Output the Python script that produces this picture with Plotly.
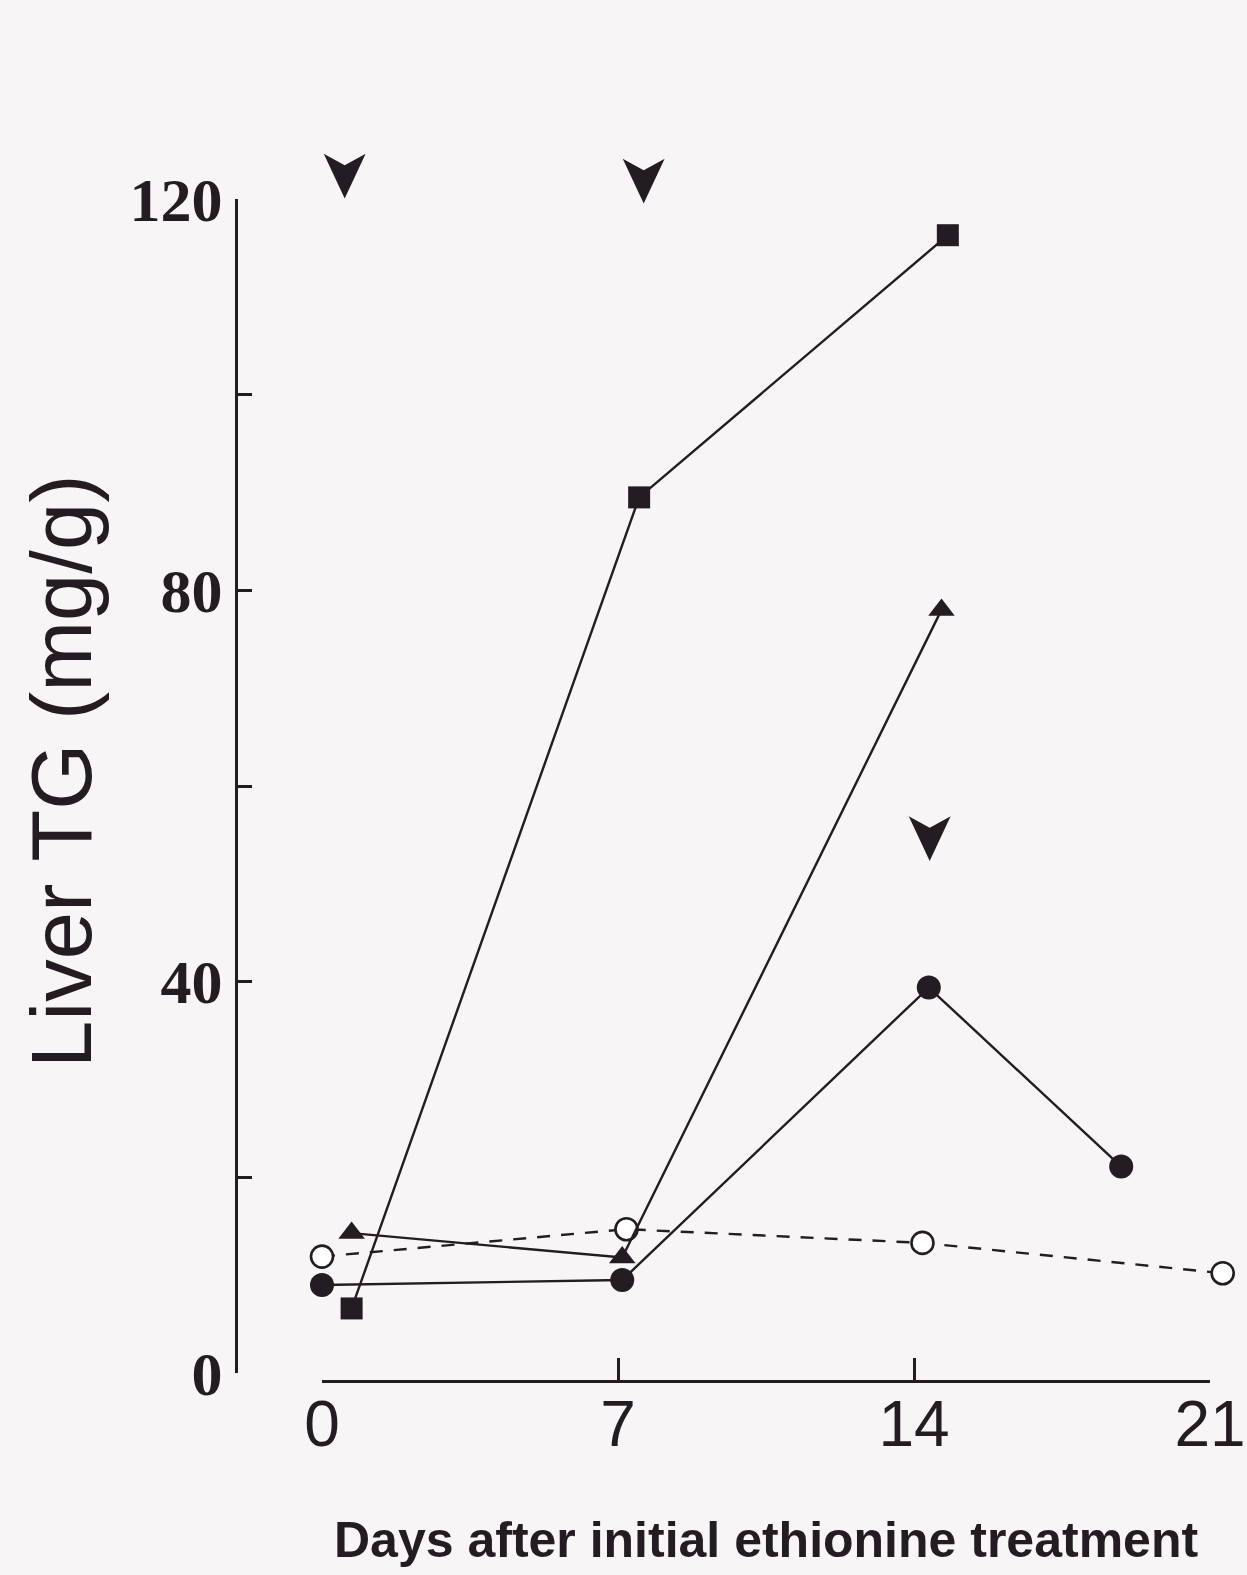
import plotly.graph_objects as go

# ---- data ----
sq_days = [0.7, 7.5, 14.8]
sq_tg = [6.6, 89.5, 116.3]

tri_days = [0.7, 7.1, 14.65]
tri_tg = [14.3, 11.8, 78.0]

cir_days = [0.0, 7.1, 14.35, 18.9]
cir_tg = [9.0, 9.5, 39.4, 21.1]

open_days = [0.0, 7.2, 14.2, 21.3]
open_tg = [11.9, 14.7, 13.3, 10.2]

arrow_days = [0.57, 7.64, 14.4]
arrow_tg = [122.6, 122.1, 54.8]

x_ticks = [0, 7, 14, 21]
y_ticks = [0, 20, 40, 60, 80, 100, 120]
y_ticklabels = ["0", "", "40", "", "80", "", "120"]

INK = "#231c22"
BG = "#f8f5f6"
W, H = 1247, 1575

# pixel geometry of the axes
x0_px, x21_px = 322, 1210
y0_px, y120_px = 1373, 199
yaxis_px = 236
xaxis_px = 1381

ppd = (x21_px - x0_px) / 21.0      # px per day
ppu = (y0_px - y120_px) / 120.0    # px per mg/g
data_xrange = [-x0_px / ppd, 21 + (W - x21_px) / ppd]
data_yrange = [-(H - y0_px) / ppu, 120 + y120_px / ppu]

fig = go.Figure()

common = dict(xaxis="x", yaxis="y", showlegend=False, hoverinfo="skip")

fig.add_trace(go.Scatter(
    x=open_days, y=open_tg, mode="lines+markers",
    line=dict(color=INK, width=2.4, dash="13px,11px"),
    marker=dict(symbol="circle", size=22, color="white", line=dict(color=INK, width=2.6)),
    **common))

fig.add_trace(go.Scatter(
    x=cir_days, y=cir_tg, mode="lines+markers",
    line=dict(color=INK, width=2.4),
    marker=dict(symbol="circle", size=24, color=INK),
    **common))

fig.add_trace(go.Scatter(
    x=tri_days, y=tri_tg, mode="lines+markers",
    line=dict(color=INK, width=2.4),
    marker=dict(symbol="triangle-up", size=23, color=INK),
    **common))

fig.add_trace(go.Scatter(
    x=sq_days, y=sq_tg, mode="lines+markers",
    line=dict(color=INK, width=2.4),
    marker=dict(symbol="square", size=22, color=INK),
    **common))

# treatment arrows
for d, v in zip(arrow_days, arrow_tg):
    fig.add_annotation(x=d, y=v, xref="x", yref="y", text="➤", textangle=90,
                       showarrow=False, xanchor="center", yanchor="middle",
                       font=dict(family="DejaVu Sans", size=66, color=INK))

# dummy trace so the visible axes subplot exists
fig.add_trace(go.Scatter(x=[0], y=[0], xaxis="x2", yaxis="y2", mode="markers",
                         marker=dict(size=1, opacity=0), showlegend=False, hoverinfo="skip"))

fig.update_layout(
    width=W, height=H,
    margin=dict(l=0, r=0, t=0, b=0, autoexpand=False),
    paper_bgcolor=BG, plot_bgcolor="rgba(0,0,0,0)",
    xaxis=dict(domain=[0, 1], range=data_xrange, visible=False, automargin=False),
    yaxis=dict(domain=[0, 1], range=data_yrange, visible=False, automargin=False),
    xaxis2=dict(
        domain=[x0_px / W, x21_px / W], range=[0, 21],
        anchor="free", position=1 - xaxis_px / H, automargin=False,
        showline=True, linecolor=INK, linewidth=3,
        ticks="inside", ticklen=22, tickwidth=2.5, tickcolor=INK,
        tickvals=x_ticks, ticktext=[str(v) for v in x_ticks],
        ticklabelstandoff=-14,
        tickfont=dict(family="Liberation Sans Narrow, Arial Narrow, Liberation Sans", size=64, color=INK),
        showgrid=False, zeroline=False),
    yaxis2=dict(
        domain=[1 - y0_px / H, 1 - y120_px / H], range=[0, 120],
        anchor="free", position=yaxis_px / W, automargin=False,
        showline=True, linecolor=INK, linewidth=3,
        ticks="inside", ticklen=14, tickwidth=2.5, tickcolor=INK,
        tickvals=y_ticks, ticktext=y_ticklabels,
        tickfont=dict(family="Liberation Serif, Times New Roman, serif", size=62, color=INK, weight="bold"),
        showgrid=False, zeroline=False),
)

fig.add_annotation(text="Liver TG (mg/g)", textangle=-90, xref="paper", yref="paper",
                   x=62 / W, y=1 - 771 / H, showarrow=False, xanchor="center", yanchor="middle",
                   font=dict(family="Liberation Sans, Arial, sans-serif", size=85, color=INK))
fig.add_annotation(text="<b>Days after initial ethionine treatment</b>", xref="paper", yref="paper",
                   x=766 / W, y=1 - 1540 / H, showarrow=False, xanchor="center", yanchor="middle",
                   font=dict(family="Liberation Sans Narrow, Arial Narrow, Liberation Sans", size=50, color=INK))

fig.write_html("out.html")
